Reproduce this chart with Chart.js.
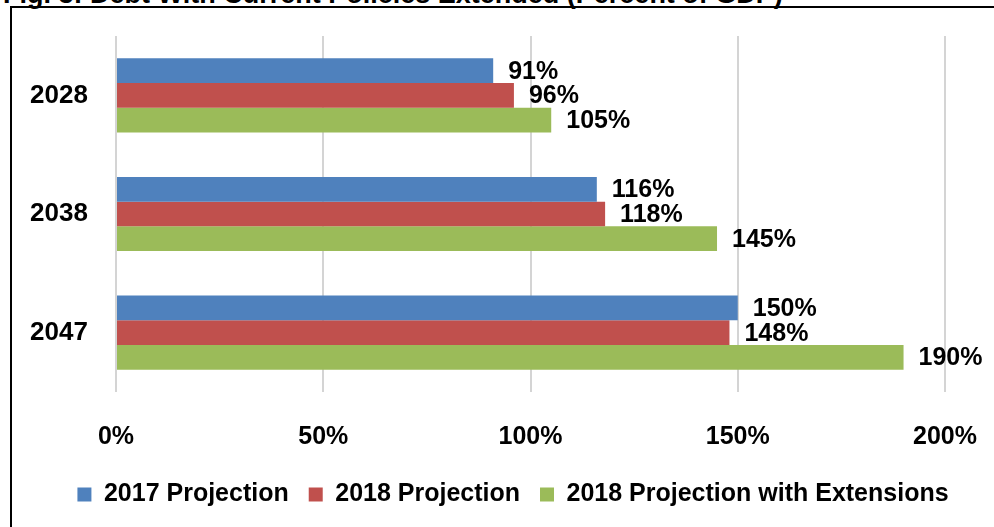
<!DOCTYPE html>
<html lang="en">
<head>
  <meta charset="UTF-8" />
  <title>Debt With Current Policies Extended</title>
  <script src="https://cdn.jsdelivr.net/npm/chart.js"></script>
  <style>
    body {
      margin: 0;
      background: white;
      width: 994px;
      height: 527px;
      overflow: hidden;
      position: relative;
    }
    .titulo {
      position: absolute;
      left: 3px;
      top: -21px;
      font-family: 'Liberation Sans', Arial, sans-serif;
      font-weight: bold;
      font-size: 27px;
      white-space: nowrap;
    }
    .moldura {
      position: absolute;
      left: 10px;
      top: 6px;
      width: 1000px;
      height: 540px;
      border-left: 2px solid #000;
      border-top: 2px solid #000;
    }
    canvas {
      position: absolute;
      left: 0;
      top: 0;
    }
  </style>
</head>
<body>
  <div class="titulo">Fig. 3: Debt With Current Policies Extended (Percent of GDP)</div>
  <div class="moldura"></div>
  <canvas id="grafico" width="994" height="527"></canvas>

  <script>
    const anos = ['2028', '2038', '2047'];
    const proj2017 = [91, 116, 150];
    const proj2018 = [96, 118, 148];
    const proj2018Ext = [105, 145, 190];
    const ticksX = [0, 50, 100, 150, 200];

    const fonte = "'Liberation Sans', Arial, sans-serif";

    // rótulos de valor no fim de cada barra
    const rotulos = {
      id: 'rotulos',
      afterDatasetsDraw(chart) {
        const ctx = chart.ctx;
        ctx.save();
        ctx.font = 'bold 25px ' + fonte;
        ctx.fillStyle = '#000';
        ctx.textBaseline = 'middle';
        ctx.textAlign = 'left';
        chart.data.datasets.forEach((ds, i) => {
          chart.getDatasetMeta(i).data.forEach((bar, j) => {
            ctx.fillText(ds.data[j] + '%', bar.x + 15, bar.y + 1);
          });
        });
        ctx.restore();
      }
    };

    new Chart(document.getElementById('grafico').getContext('2d'), {
      type: 'bar',
      data: {
        labels: anos,
        datasets: [
          { label: '2017 Projection', data: proj2017, backgroundColor: '#4F81BD' },
          { label: '2018 Projection', data: proj2018, backgroundColor: '#C0504D' },
          { label: '2018 Projection with Extensions', data: proj2018Ext, backgroundColor: '#9BBB59' }
        ]
      },
      options: {
        indexAxis: 'y',
        responsive: false,
        animation: false,
        categoryPercentage: 0.625,
        barPercentage: 1,
        layout: { padding: { top: 36, right: 10, left: 42, bottom: 10 } },
        scales: {
          x: {
            min: 0,
            max: 200,
            afterBuildTicks(scale) {
              scale.ticks = ticksX.map(v => ({ value: v }));
            },
            afterFit(scale) {
              scale.height = 70;
              scale.paddingLeft = 0;
              scale.paddingRight = 0;
            },
            grid: { color: '#d4d4d4', lineWidth: 2, drawTicks: false },
            border: { display: false },
            ticks: {
              padding: 30,
              color: '#000',
              font: { family: fonte, size: 25, weight: 'bold' },
              callback: v => v + '%'
            }
          },
          y: {
            afterFit(scale) { scale.width = 74; },
            grid: { display: false },
            border: { display: false },
            ticks: {
              mirror: true,
              padding: -86,
              color: '#000',
              font: { family: fonte, size: 26, weight: 'bold' }
            }
          },
          // eixo vazio só para reservar espaço à direita
          vazio: {
            type: 'category',
            position: 'right',
            grid: { display: false },
            border: { display: false },
            ticks: { display: false },
            afterFit(scale) { scale.width = 39; }
          }
        },
        plugins: {
          legend: {
            position: 'bottom',
            labels: {
              color: '#000',
              boxWidth: 14,
              boxHeight: 14,
              padding: 20,
              font: { family: fonte, size: 25, weight: 'bold' }
            }
          },
          tooltip: { enabled: false }
        }
      },
      plugins: [rotulos]
    });
  </script>
</body>
</html>
